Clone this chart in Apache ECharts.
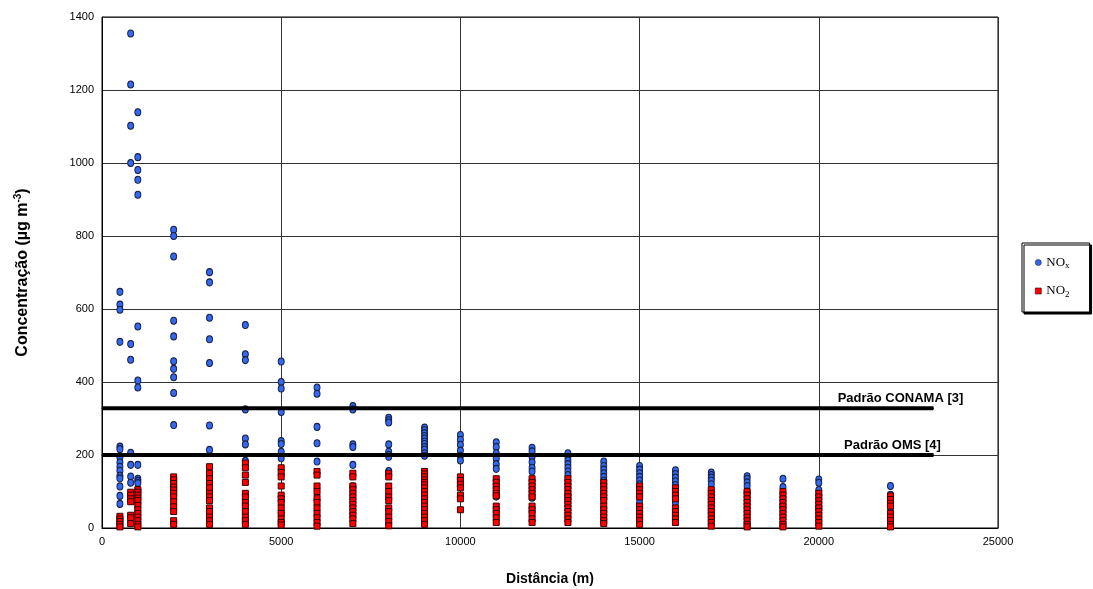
<!DOCTYPE html>
<html>
<head>
<meta charset="utf-8">
<script src="https://cdn.jsdelivr.net/npm/echarts@6/dist/echarts.min.js"></script>
<style>html,body{margin:0;padding:0;background:#fff}#c{width:1093px;height:589px}</style>
</head>
<body>
<div id="c"></div>
<script>
const distances = [500, 800, 1000, 2000, 3000, 4000, 5000, 6000, 7000, 8000, 9000, 10000, 11000, 12000, 13000, 14000, 15000, 16000, 17000, 18000, 19000, 20000, 22000];
const noxByDistance = [
  [647, 612, 598, 510, 223, 216, 194, 180, 168, 157, 143, 136, 114, 88, 66],
  [1355, 1215, 1102, 1000, 504, 461, 206, 173, 141, 124],
  [1139, 1016, 981, 954, 913, 552, 404, 385, 173, 135, 129, 123, 105, 66],
  [817, 800, 744, 568, 525, 457, 436, 413, 370, 282, 112],
  [701, 673, 576, 517, 452, 281, 214, 86],
  [556, 476, 460, 325, 245, 229, 184],
  [456, 400, 382, 318, 238, 230, 209, 191, 41],
  [385, 368, 277, 232, 182],
  [334, 325, 229, 222, 173, 114],
  [302, 295, 289, 229, 209, 200, 195, 156],
  [275, 268, 260, 252, 245, 237, 230, 222, 215, 205, 198],
  [255, 242, 228, 212, 198, 185],
  [235, 222, 205, 190, 175, 162, 86],
  [220, 210, 195, 180, 165, 155, 83],
  [205, 195, 185, 175, 165, 155, 145, 90, 80],
  [182, 170, 160, 150, 140, 130, 90, 80],
  [170, 160, 150, 140, 130, 120, 70],
  [158, 148, 138, 128, 118, 69],
  [152, 145, 138, 130, 120],
  [142, 135, 125, 115, 100],
  [135, 112, 59],
  [133, 124, 104, 55],
  [115, 91, 45]
];
const no2ByDistance = [
  [32, 25, 18, 10, 3],
  [98, 90, 80, 72, 35, 28, 12],
  [105, 98, 90, 82, 75, 62, 50, 40, 30, 20, 10, 3],
  [140, 132, 122, 112, 104, 95, 85, 72, 58, 45, 20, 10],
  [168, 150, 135, 122, 110, 95, 85, 75, 55, 45, 30, 20, 10],
  [178, 165, 145, 125, 95, 85, 70, 60, 45, 30, 20, 10],
  [165, 152, 140, 115, 90, 80, 70, 55, 40, 25, 15, 8],
  [155, 145, 115, 100, 82, 70, 55, 40, 28, 15, 5],
  [150, 140, 115, 105, 95, 85, 75, 65, 55, 45, 35, 25, 12],
  [150, 140, 115, 100, 85, 75, 55, 45, 30, 18, 6],
  [155, 148, 140, 132, 125, 118, 110, 100, 90, 80, 70, 60, 50, 40, 30, 20, 10],
  [140, 130, 120, 110, 90, 80, 50],
  [135, 125, 115, 105, 95, 88, 60, 50, 40, 28, 15],
  [135, 125, 115, 105, 95, 85, 60, 50, 40, 25, 15],
  [135, 125, 115, 105, 95, 85, 75, 65, 55, 45, 35, 25, 15],
  [125, 115, 105, 95, 85, 75, 60, 50, 40, 30, 20, 12],
  [115, 105, 95, 85, 60, 50, 40, 30, 20, 10],
  [110, 100, 90, 80, 55, 45, 35, 25, 15],
  [105, 95, 85, 75, 65, 55, 45, 35, 25, 15, 5],
  [100, 90, 80, 70, 60, 50, 40, 30, 20, 10, 3],
  [100, 90, 80, 70, 60, 50, 40, 30, 20, 10, 3],
  [95, 85, 75, 65, 55, 45, 35, 25, 15, 5],
  [88, 78, 68, 60, 40, 30, 20, 10, 3]
];
const conamaValue = 328;
const omsValue = 200;
const standardStart = 0;
const standardEnd = 23200;
const conamaLabel = 'Padrão CONAMA [3]';
const omsLabel = 'Padrão OMS [4]';

function pairs(byDist) {
  const out = [];
  byDist.forEach((vals, i) => vals.forEach(v => out.push([distances[i], v])));
  return out;
}

const chart = echarts.init(document.getElementById('c'), null, {renderer: 'canvas'});
const font = 'Liberation Sans, Arial, sans-serif';
const serif = 'Liberation Serif, Times New Roman, serif';
const gridColor = '#333';

function stdLine(name, value, offsetX) {
  return {
    name: name,
    type: 'line',
    z: 5,
    symbol: 'rect',
    symbolSize: 1,
    showSymbol: true,
    silent: true,
    lineStyle: {color: '#000', width: 4},
    itemStyle: {color: '#000'},
    label: {show: false},
    data: [
      {value: [standardStart, value]},
      {value: [standardEnd, value],
        label: {show: true, position: 'top', distance: 3, offset: [offsetX, 0],
          formatter: name, fontFamily: font, fontWeight: 'bold', fontSize: 13, color: '#000'}}
    ]
  };
}

chart.setOption({
  animation: false,
  grid: {left: 102, right: 95, top: 17, bottom: 61, show: true, borderColor: '#000', borderWidth: 1, outerBoundsMode: 'none', containLabel: false},
  xAxis: {
    type: 'value', min: 0, max: 25000, interval: 5000,
    name: 'Distância (m)', nameLocation: 'middle', nameGap: 44,
    nameTextStyle: {fontFamily: font, fontWeight: 'bold', fontSize: 14, color: '#000'},
    axisLine: {lineStyle: {color: '#000'}},
    axisTick: {show: false},
    axisLabel: {fontFamily: font, fontSize: 11, color: '#000', margin: 8, formatter: v => String(v)},
    splitLine: {show: true, lineStyle: {color: gridColor, width: 1}}
  },
  yAxis: {
    type: 'value', min: 0, max: 1400, interval: 200,
    name: 'Concentração (µg m{sup|-3})', nameLocation: 'middle', nameGap: 70, nameRotate: 90,
    nameTextStyle: {fontFamily: font, fontWeight: 'bold', fontSize: 16, color: '#000',
      rich: {sup: {fontFamily: font, fontWeight: 'bold', fontSize: 10, color: '#000', verticalAlign: 'top', padding: [0, 0, 9, 0]}}},
    axisLine: {show: true, lineStyle: {color: '#000'}},
    axisTick: {show: false},
    axisLabel: {fontFamily: font, fontSize: 11, color: '#000', margin: 8, formatter: v => String(v)},
    splitLine: {show: true, lineStyle: {color: gridColor, width: 1}}
  },
  legend: {
    orient: 'vertical',
    left: 1022, top: 243,
    padding: [13, 20, 13, 13],
    itemGap: 14,
    itemWidth: 6, itemHeight: 6,
    backgroundColor: '#fff',
    borderColor: '#000', borderWidth: 1,
    shadowColor: '#000', shadowOffsetX: 2, shadowOffsetY: 2, shadowBlur: 0,
    itemStyle: {borderWidth: 0.6},
    data: [{name: 'NOx'}, {name: 'NO2'}],
    formatter: n => n === 'NOx' ? 'NO{sub|x}' : 'NO{sub|2}',
    textStyle: {fontFamily: serif, fontSize: 13, color: '#000',
      rich: {sub: {fontFamily: serif, fontSize: 9, color: '#000', verticalAlign: 'bottom', padding: [7, 0, 0, 0]}}}
  },
  series: [
    {
      name: 'NOx', type: 'scatter', symbol: 'circle', symbolSize: [6, 7], z: 3,
      itemStyle: {color: '#3468ee', borderColor: '#14204a', borderWidth: 1, opacity: 1},
      data: pairs(noxByDistance)
    },
    {
      name: 'NO2', type: 'scatter', symbol: 'rect', symbolSize: 6, z: 4,
      itemStyle: {color: '#ff0000', borderColor: '#3a0000', borderWidth: 1, opacity: 1},
      data: pairs(no2ByDistance)
    },
    stdLine(conamaLabel, conamaValue, -33),
    stdLine(omsLabel, omsValue, -41)
  ]
});
</script>
</body>
</html>
